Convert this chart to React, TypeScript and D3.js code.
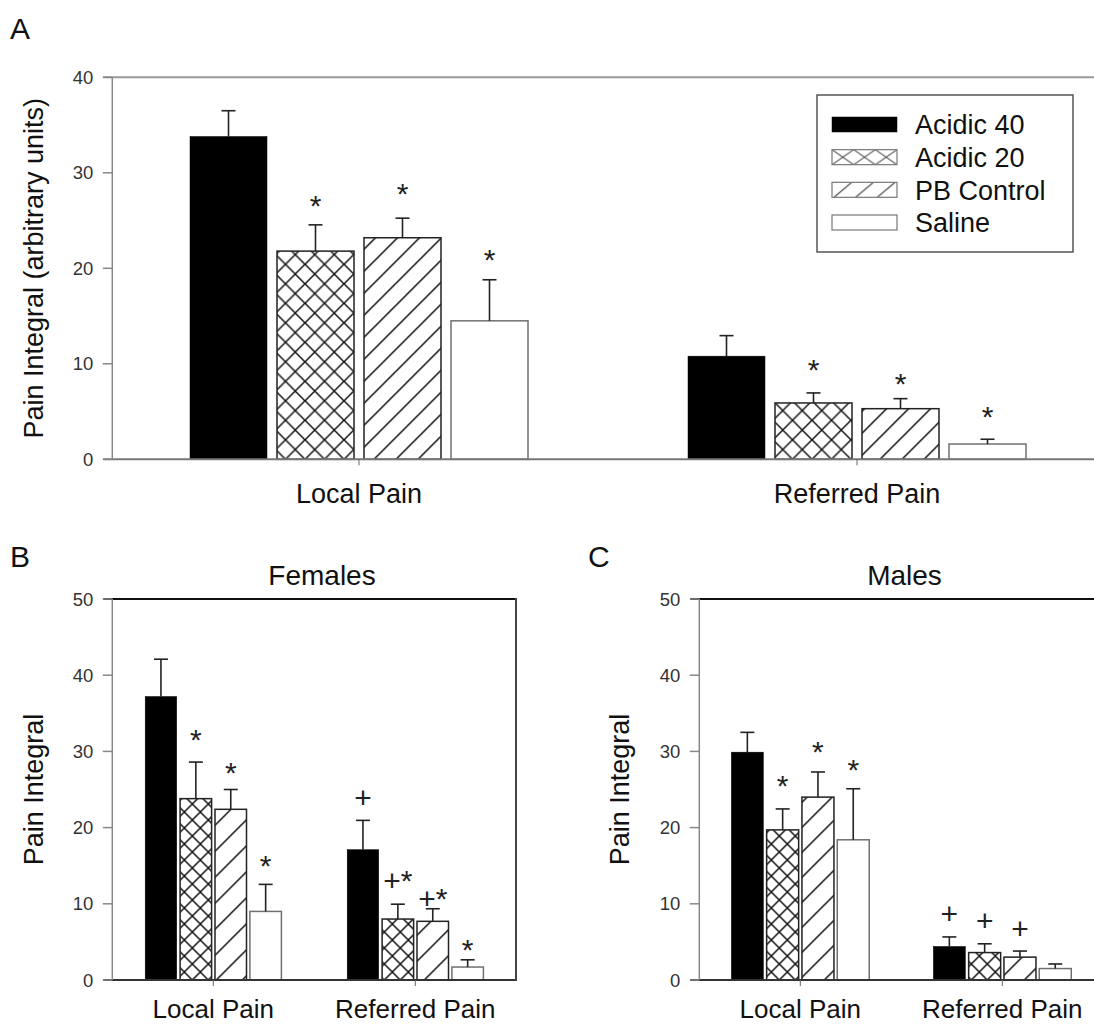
import React from 'react';
import * as d3 from 'd3';

const seriesNames = ['Acidic 40', 'Acidic 20', 'PB Control', 'Saline'];
const categories = ['Local Pain', 'Referred Pain'];

// Panel A (all animals)
const aLocalMean = [33.8, 21.8, 23.2, 14.5];
const aLocalSem = [2.7, 2.75, 2.05, 4.3];
const aReferredMean = [10.8, 5.9, 5.3, 1.6];
const aReferredSem = [2.15, 1.05, 1.05, 0.5];

// Panel B (Females)
const bLocalMean = [37.2, 23.8, 22.4, 9.0];
const bLocalSem = [4.9, 4.8, 2.6, 3.55];
const bReferredMean = [17.1, 8.0, 7.7, 1.7];
const bReferredSem = [3.85, 1.95, 1.65, 0.95];

// Panel C (Males)
const cLocalMean = [29.9, 19.7, 24.0, 18.4];
const cLocalSem = [2.6, 2.75, 3.3, 6.7];
const cReferredMean = [4.4, 3.6, 3.0, 1.5];
const cReferredSem = [1.25, 1.15, 0.8, 0.6];

const aTicks = [0, 10, 20, 30, 40];
const bcTicks = [0, 10, 20, 30, 40, 50];

// significance marks: [category index, series index, label, value at glyph centre]
const aMarks: [number, number, string, number][] = [
  [0, 1, '*', 27.3], [0, 2, '*', 28.5], [0, 3, '*', 21.6],
  [1, 1, '*', 10.05], [1, 2, '*', 8.65], [1, 3, '*', 5.2],
];
const bMarks: [number, number, string, number][] = [
  [0, 1, '*', 32.4], [0, 2, '*', 28.1], [0, 3, '*', 15.9],
  [1, 0, '+', 23.9], [1, 1, '+*', 13.9], [1, 2, '+*', 11.6], [1, 3, '*', 4.9],
];
const cMarks: [number, number, string, number][] = [
  [0, 1, '*', 26.4], [0, 2, '*', 30.8], [0, 3, '*', 28.5],
  [1, 0, '+', 8.7], [1, 1, '+', 7.85], [1, 2, '+', 6.7],
];

const FONT = "'Liberation Sans', Arial, Helvetica, sans-serif";

type Cfg = {
  id: string;
  means: number[][];
  sems: number[][];
  marks: [number, number, string, number][];
  ticks: number[];
  yMax: number;
  left: number;
  right: number;
  top: number;
  bottom: number;
  band: [number, number];
  barW: number;
  gap: number;
  cross: number;
  diag: number;
  topColor: string;
  bottomColor: string;
  rightBorder: boolean;
  yTitle: string;
  yTitleX: number;
  title?: string;
  titleX?: number;
  letter: string;
  letterX: number;
  letterY: number;
  catY: number;
  catFs: number;
};

function Panel({ cfg }: { cfg: Cfg }) {
  const y = d3.scaleLinear().domain([0, cfg.yMax]).range([cfg.bottom, cfg.top]);
  const x = d3.scaleBand<string>().domain(categories).range(cfg.band).padding(0);
  const step = cfg.barW + cfg.gap;
  const center = (ci: number, si: number) =>
    (x(categories[ci]) as number) + x.bandwidth() / 2 + (si - 1.5) * step;
  const fills = ['#000', `url(#cross-${cfg.id})`, `url(#diag-${cfg.id})`, '#fff'];
  const strokes = ['#000', '#222', '#222', '#707070'];
  const cap = 14;
  const markFs = 30;
  const yMid = (cfg.top + cfg.bottom) / 2;
  return (
    <g>
      <defs>
        <pattern id={`cross-${cfg.id}`} patternUnits="userSpaceOnUse" width={cfg.cross} height={cfg.cross}
          x={cfg.band[0]} y={cfg.bottom}>
          <rect width={cfg.cross} height={cfg.cross} fill="#fff" />
          <path d={`M0,0L${cfg.cross},${cfg.cross}M0,${cfg.cross}L${cfg.cross},0`} stroke="#111" strokeWidth={1.5} />
        </pattern>
        <pattern id={`diag-${cfg.id}`} patternUnits="userSpaceOnUse" width={cfg.diag} height={cfg.diag}
          x={cfg.band[0]} y={cfg.bottom}>
          <rect width={cfg.diag} height={cfg.diag} fill="#fff" />
          <path d={`M0,${cfg.diag}L${cfg.diag},0M${-cfg.diag / 2},${cfg.diag / 2}L${cfg.diag / 2},${-cfg.diag / 2}M${cfg.diag / 2},${cfg.diag * 1.5}L${cfg.diag * 1.5},${cfg.diag / 2}`}
            stroke="#111" strokeWidth={1.5} />
        </pattern>
      </defs>

      {/* panel letter */}
      <text x={cfg.letterX} y={cfg.letterY} fontSize={30} fontFamily={FONT} fill="#111">{cfg.letter}</text>
      {cfg.title && (
        <text x={cfg.titleX} y={cfg.top - 14} fontSize={28} fontFamily={FONT} textAnchor="middle" fill="#111">{cfg.title}</text>
      )}

      {/* bars */}
      {cfg.means.map((row, ci) =>
        row.map((v, si) => {
          const cx = center(ci, si);
          return (
            <rect key={`b${ci}-${si}`} x={cx - cfg.barW / 2} y={y(v)} width={cfg.barW} height={y(0) - y(v)}
              fill={fills[si]} stroke={strokes[si]} strokeWidth={si === 0 ? 0.5 : 1.5} />
          );
        })
      )}

      {/* error bars */}
      {cfg.means.map((row, ci) =>
        row.map((v, si) => {
          const cx = center(ci, si);
          const e = v + cfg.sems[ci][si];
          return (
            <g key={`e${ci}-${si}`} stroke="#222" strokeWidth={1.6}>
              <line x1={cx} x2={cx} y1={y(v)} y2={y(e)} />
              <line x1={cx - cap / 2} x2={cx + cap / 2} y1={y(e)} y2={y(e)} />
            </g>
          );
        })
      )}

      {/* marks */}
      {cfg.marks.map(([ci, si, label, v], i) => {
        const off = label === '+' ? 0.35 * markFs : 0.57 * markFs;
        return (
          <text key={`m${i}`} x={center(ci, si)} y={y(v) + off} fontSize={markFs} fontFamily={FONT}
            textAnchor="middle" fill="#222">{label}</text>
        );
      })}

      {/* frame */}
      <line x1={cfg.left - 9} x2={cfg.right} y1={y(cfg.yMax)} y2={y(cfg.yMax)} stroke={cfg.topColor} strokeWidth={2} />
      <line x1={cfg.left - 9} x2={cfg.right} y1={y(0)} y2={y(0)} stroke={cfg.bottomColor} strokeWidth={2} />
      <line x1={cfg.left} x2={cfg.left} y1={y(0)} y2={y(cfg.yMax)} stroke="#888" strokeWidth={1.5} />
      {cfg.rightBorder && (
        <line x1={cfg.right} x2={cfg.right} y1={y(0) + 1} y2={y(cfg.yMax) - 1} stroke="#444" strokeWidth={2} />
      )}

      {/* y ticks */}
      {cfg.ticks.map((t) => (
        <g key={`t${t}`}>
          <line x1={cfg.left - 9.5} x2={cfg.left} y1={y(t)} y2={y(t)} stroke="#888" strokeWidth={1.5} />
          <text x={cfg.left - 19} y={y(t) + 6.6} fontSize={18.5} fontFamily={FONT} textAnchor="end" fill="#333">{t}</text>
        </g>
      ))}

      {/* x ticks & labels */}
      {categories.map((c) => {
        const cx = (x(c) as number) + x.bandwidth() / 2;
        return (
          <g key={c}>
            <line x1={cx} x2={cx} y1={y(0)} y2={y(0) + 6} stroke="#666" strokeWidth={1} />
            <text x={cx} y={cfg.catY} fontSize={cfg.catFs} fontFamily={FONT} textAnchor="middle" fill="#111">{c}</text>
          </g>
        );
      })}

      {/* y title */}
      <text transform={`translate(${cfg.yTitleX},${yMid}) rotate(-90)`} fontSize={27} fontFamily={FONT}
        textAnchor="middle" fill="#111">{cfg.yTitle}</text>
    </g>
  );
}

function Legend() {
  const boxX = 817, boxY = 95, boxW = 256, boxH = 157;
  const swX = 832, swW = 65, swH = 15;
  const rowY = d3.scaleLinear().domain([0, 3]).range([124.5, 222.5]);
  const third = swW / 3;
  const fills = ['#000', 'url(#leg-cross)', 'url(#leg-diag)', '#fff'];
  return (
    <g>
      <defs>
        <pattern id="leg-cross" patternUnits="userSpaceOnUse" width={third} height={swH} x={swX} y={rowY(1) - swH / 2}>
          <rect width={third} height={swH} fill="#fff" />
          <path d={`M0,0L${third},${swH}M0,${swH}L${third},0`} stroke="#333" strokeWidth={1} />
        </pattern>
        <pattern id="leg-diag" patternUnits="userSpaceOnUse" width={third} height={swH} x={swX} y={rowY(2) - swH / 2}>
          <rect width={third} height={swH} fill="#fff" />
          <path d={`M2,${swH}L${third - 2},0`} stroke="#333" strokeWidth={1} />
        </pattern>
      </defs>
      <rect x={boxX} y={boxY} width={boxW} height={boxH} fill="#fff" stroke="#555" strokeWidth={1.5} />
      {seriesNames.map((s, i) => (
        <g key={s}>
          <rect x={swX} y={rowY(i) - swH / 2} width={swW} height={swH} fill={fills[i]}
            stroke={i === 0 ? '#000' : '#777'} strokeWidth={i === 0 ? 0.5 : 1.2} />
          <text x={915} y={rowY(i) + 9.7} fontSize={27} fontFamily={FONT} fill="#111">{s}</text>
        </g>
      ))}
    </g>
  );
}

export default function App() {
  const panelA: Cfg = {
    id: 'a', means: [aLocalMean, aReferredMean], sems: [aLocalSem, aReferredSem], marks: aMarks,
    ticks: aTicks, yMax: 40, left: 112.3, right: 1094, top: 77.3, bottom: 459.3, band: [110, 1106],
    barW: 77, gap: 10, cross: 19.5, diag: 22, topColor: '#999', bottomColor: '#777', rightBorder: false,
    yTitle: 'Pain Integral (arbitrary units)', yTitleX: 43, letter: 'A', letterX: 10, letterY: 38.5,
    catY: 502.7, catFs: 27,
  };
  const panelB: Cfg = {
    id: 'b', means: [bLocalMean, bReferredMean], sems: [bLocalSem, bReferredSem], marks: bMarks,
    ticks: bcTicks, yMax: 50, left: 112.3, right: 516, top: 599, bottom: 980, band: [112.3, 516.3],
    barW: 31.5, gap: 3.4, cross: 16, diag: 26, topColor: '#111', bottomColor: '#333', rightBorder: true,
    yTitle: 'Pain Integral', yTitleX: 43, title: 'Females', titleX: 322, letter: 'B', letterX: 10, letterY: 567,
    catY: 1018, catFs: 26,
  };
  const panelC: Cfg = {
    id: 'c', means: [cLocalMean, cReferredMean], sems: [cLocalSem, cReferredSem], marks: cMarks,
    ticks: bcTicks, yMax: 50, left: 699.3, right: 1094, top: 599, bottom: 980, band: [699.3, 1103.3],
    barW: 32, gap: 3.3, cross: 16, diag: 25, topColor: '#111', bottomColor: '#333', rightBorder: false,
    yTitle: 'Pain Integral', yTitleX: 629, title: 'Males', titleX: 904.5, letter: 'C', letterX: 588, letterY: 567,
    catY: 1018, catFs: 26,
  };
  return (
    <svg width={1094} height={1026} viewBox="0 0 1094 1026"
      style={{ position: 'absolute', left: 0, top: 0, display: 'block', background: '#fff' }}>
      <rect width={1094} height={1026} fill="#fff" />
      <Panel cfg={panelA} />
      <Legend />
      <Panel cfg={panelB} />
      <Panel cfg={panelC} />
    </svg>
  );
}
